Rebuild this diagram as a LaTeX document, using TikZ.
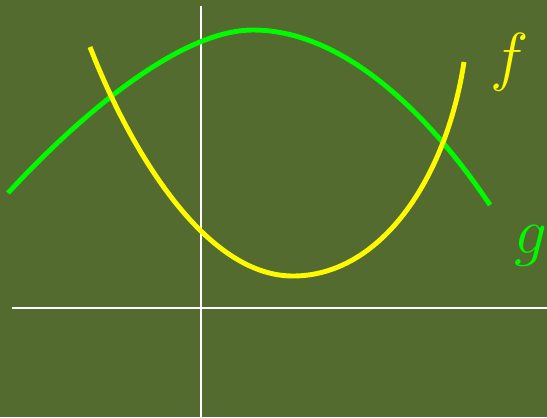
\RequirePackage{fix-cm}
\documentclass[tikz,border=0pt]{standalone}
\usepackage{tikz}
\usetikzlibrary{positioning}
\definecolor{boardgreen}{RGB}{83, 107, 47}
\definecolor{brightgreen}{RGB}{0, 250, 0}
\definecolor{brightyellow}{RGB}{255, 250, 0}

\begin{document}
\begin{tikzpicture}[
      x=0.02cm, y=-0.02cm,
      axis/.style={draw=white, line width=0.8pt},
      curve/.style={line width=2.8pt},
      label/.style={font=\fontsize{37}{40}\selectfont, inner sep=0pt}
  ]

  % Board
  \fill[boardgreen] (0,0) rectangle (547,417);
  \useasboundingbox (0,0) rectangle (547,417);

  % Axes
  \draw[axis] (201,6) -- (201,417);
  \draw[axis] (12,308) -- (547,308);

  % Curve g (green)
  \draw[curve, draw=brightgreen] (8,193) .. controls (80,115) and (180,30) .. (253,30)
    .. controls (340,30) and (425,108) .. (490,205);

  % Curve f (yellow)
  \draw[curve, draw=brightyellow] (90,47) .. controls (130,150) and (205,276) .. (293,276)
    .. controls (380,276) and (446,180) .. (464,62);

  % Labels
  \node[label, text=brightyellow] (flabel) at (510,62) {$f$};
  \node[label, text=brightgreen] (glabel) at (531,246) {$g$};

\end{tikzpicture}
\end{document}
